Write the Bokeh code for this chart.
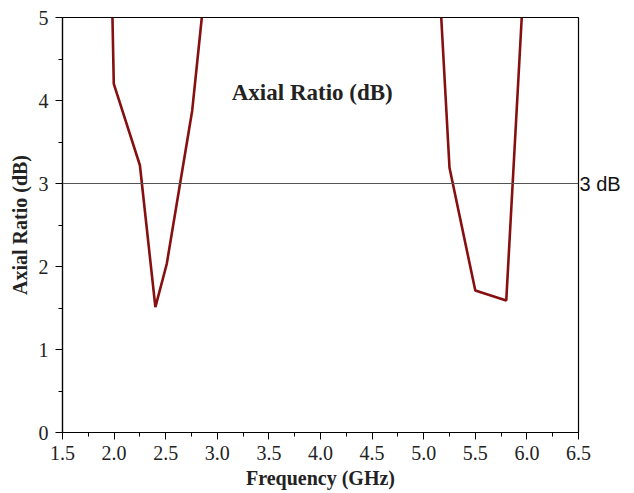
from bokeh.plotting import figure
from bokeh.models import Range1d, Span, Label, FixedTicker, LinearAxis, NumeralTickFormatter
from bokeh.embed import file_html
from bokeh.resources import INLINE

# Data
band1_freq = [1.984, 1.997, 2.25, 2.40, 2.51, 2.757, 2.85]
band1_ar = [5.0, 4.2, 3.22, 1.51, 2.03, 3.88, 5.0]
band2_freq = [5.17, 5.25, 5.50, 5.80, 5.95]
band2_ar = [5.0, 3.19, 1.71, 1.59, 5.0]
x_ticks = [1.5, 2.0, 2.5, 3.0, 3.5, 4.0, 4.5, 5.0, 5.5, 6.0, 6.5]
y_ticks = [0, 1, 2, 3, 4, 5]
threshold = 3
threshold_label = "3 dB"

p = figure(width=634, height=493, output_backend="svg", toolbar_location=None,
           x_range=Range1d(1.5, 6.5), y_range=Range1d(0, 5),
           min_border_left=62, min_border_right=56, min_border_top=17, min_border_bottom=61)
p.background_fill_color = "white"
p.border_fill_color = "white"
p.outline_line_color = "black"
p.outline_line_width = 1.2
p.xgrid.visible = False
p.ygrid.visible = False

p.line(band1_freq, band1_ar, line_color="#861010", line_width=2.6)
p.line(band2_freq, band2_ar, line_color="#861010", line_width=2.6)

p.add_layout(Span(location=threshold, dimension="width", line_color="#555555", line_width=1))

for ax in (p.xaxis[0], p.yaxis[0]):
    ax.axis_line_color = "black"
    ax.axis_line_width = 1.2
    ax.major_tick_line_color = "black"
    ax.minor_tick_line_color = "black"
    ax.major_tick_out = 7
    ax.major_tick_in = 0
    ax.minor_tick_out = 4
    ax.minor_tick_in = 0
    ax.major_label_text_font = "Liberation Serif"
    ax.major_label_text_font_size = "20px"
    ax.major_label_text_color = "#222222"
    ax.axis_label_text_font = "Liberation Serif"
    ax.axis_label_text_font_style = "bold"
    ax.axis_label_text_font_size = "20px"
    ax.axis_label_text_color = "#222222"

p.xaxis[0].ticker = FixedTicker(ticks=x_ticks, minor_ticks=[1.75 + 0.5 * i for i in range(10)])
p.xaxis[0].formatter = NumeralTickFormatter(format="0.0")
p.yaxis[0].ticker = FixedTicker(ticks=y_ticks, minor_ticks=[0.5 + i for i in range(5)])
p.xaxis[0].axis_label = "Frequency (GHz)"
p.yaxis[0].axis_label = "Axial Ratio (dB)"
p.xaxis[0].axis_label_standoff = 4
p.yaxis[0].axis_label_standoff = 5
p.xaxis[0].major_label_standoff = 6
p.yaxis[0].major_label_standoff = 7

right_ax = LinearAxis(ticker=FixedTicker(ticks=[threshold], minor_ticks=[]),
                      major_label_overrides={threshold: threshold_label})
right_ax.axis_line_color = None
right_ax.major_tick_line_color = None
right_ax.major_tick_out = 0
right_ax.major_tick_in = 0
right_ax.major_label_standoff = 1
right_ax.major_label_text_font = "Liberation Sans"
right_ax.major_label_text_font_size = "20px"
right_ax.major_label_text_color = "#111111"
p.add_layout(right_ax, "right")

p.add_layout(Label(x=3.92, y=4.10, text="Axial Ratio (dB)", text_font="Liberation Serif",
                   text_font_style="bold", text_font_size="23px", text_color="#222222",
                   text_align="center", text_baseline="middle"))

open("out.html", "w").write(file_html(p, INLINE))
